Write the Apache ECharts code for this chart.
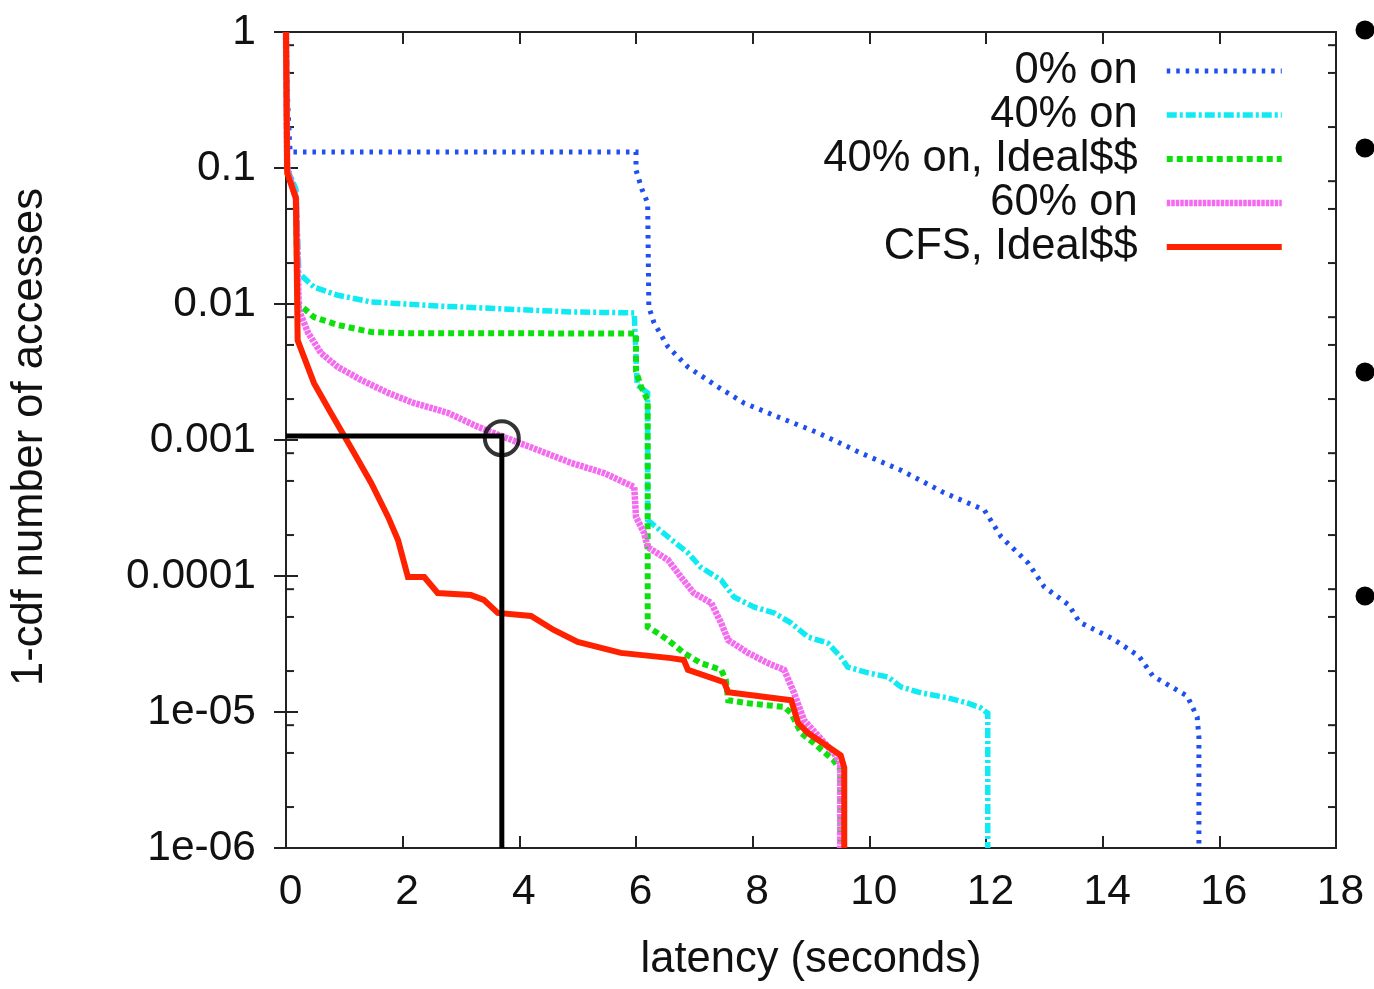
<!DOCTYPE html>
<html>
<head>
<meta charset="utf-8">
<title>1-cdf of access latency</title>
<script src="https://cdn.jsdelivr.net/npm/echarts@6/dist/echarts.min.js"></script>
<style>
  html, body { margin: 0; padding: 0; background: #fff; }
  #chart { width: 1374px; height: 989px; }
</style>
</head>
<body>
<div id="chart"></div>
<script>
// Tick labels
const xTickLabels = ['0', '2', '4', '6', '8', '10', '12', '14', '16', '18'];
const yTickLabels = ['1e-06', '1e-05', '0.0001', '0.001', '0.01', '0.1', '1'];
// Minor log ticks drawn inside each decade (multipliers)
const minorMultipliers = [2, 5, 8];

// Series: [latency (s), 1-cdf]
const seriesNames = ['0% on', '40% on', '40% on, Ideal$$', '60% on', 'CFS, Ideal$$'];

const pct0On = [
  [0, 1], [0.03, 0.3], [0.07, 0.131], [6.0, 0.131], [6.0, 0.0967], [6.1, 0.07], [6.2, 0.0553],
  [6.22, 0.0095], [6.31, 0.00725], [6.55, 0.00483], [6.89, 0.00344], [7.41, 0.00245],
  [7.85, 0.00187], [8.43, 0.00148], [9.12, 0.00113], [9.86, 0.0008], [10.54, 0.0006],
  [11.28, 0.00041], [11.97, 0.000306], [12.26, 0.000194], [12.72, 0.000125], [13.0, 0.000083],
  [13.42, 0.0000612], [13.6, 0.0000459], [14.18, 0.0000344], [14.62, 0.0000258],
  [14.86, 0.0000184], [15.45, 0.0000131], [15.62, 0.0000092], [15.65, 0.0000065], [15.65, 0.000001]
];

const pct40On = [
  [0, 1], [0.02, 0.1], [0.17, 0.07], [0.22, 0.0169], [0.48, 0.0133], [0.89, 0.0116],
  [1.46, 0.01035], [2.6, 0.00967], [3.74, 0.0092], [4.89, 0.00874], [5.97, 0.0086],
  [6.02, 0.00254], [6.2, 0.00222], [6.2, 0.000258], [6.55, 0.000194], [6.89, 0.000148],
  [7.11, 0.000116], [7.46, 0.0000935], [7.68, 0.0000701], [8.02, 0.0000592], [8.37, 0.0000535],
  [8.66, 0.0000451], [8.95, 0.0000356], [9.29, 0.0000321], [9.51, 0.0000254], [9.63, 0.0000214],
  [9.98, 0.0000194], [10.32, 0.0000181], [10.54, 0.0000153], [10.89, 0.0000138],
  [11.35, 0.0000127], [11.69, 0.0000116], [11.91, 0.0000107], [12.03, 0.0000098], [12.03, 0.000001]
];

const pct40OnIdeal = [
  [0, 1], [0.02, 0.1], [0.17, 0.06], [0.2, 0.0102], [0.48, 0.008], [0.89, 0.00701],
  [1.46, 0.00622], [2.02, 0.0061], [6.0, 0.00607], [6.0, 0.0032], [6.09, 0.00245], [6.2, 0.00197],
  [6.2, 0.0000422], [6.37, 0.0000381], [6.55, 0.0000338], [6.82, 0.0000272], [7.11, 0.0000229],
  [7.46, 0.0000204], [7.54, 0.0000172], [7.58, 0.0000122], [7.92, 0.0000116], [8.54, 0.0000109],
  [8.66, 0.0000098], [8.83, 0.000007], [9.05, 0.0000059], [9.39, 0.0000044], [9.5, 0.0000038],
  [9.5, 0.000001]
];

const pct60On = [
  [0, 1], [0.02, 0.1], [0.17, 0.06], [0.22, 0.00903], [0.38, 0.00612], [0.6, 0.00436],
  [0.89, 0.00344], [1.29, 0.00276], [1.75, 0.00222], [2.19, 0.00187], [2.78, 0.00158],
  [3.29, 0.00125], [3.74, 0.00105], [4.32, 0.000844], [4.89, 0.000678], [5.45, 0.000572],
  [5.97, 0.000451], [6.0, 0.000272], [6.14, 0.000207], [6.2, 0.000163], [6.55, 0.000131],
  [6.77, 0.0000984], [6.99, 0.000075], [7.29, 0.0000633], [7.46, 0.0000451], [7.58, 0.0000338],
  [7.92, 0.0000272], [8.26, 0.0000229], [8.54, 0.0000204], [8.71, 0.0000138], [8.88, 0.0000087],
  [9.39, 0.000005], [9.5, 0.0000042], [9.5, 0.000001]
];

const cfsIdeal = [
  [0, 1], [0.02, 0.092], [0.17, 0.06], [0.2, 0.0054], [0.48, 0.00262], [0.77, 0.00158],
  [1.17, 0.0008], [1.46, 0.000483], [1.75, 0.000272], [1.92, 0.000184], [2.09, 0.0000984],
  [2.37, 0.0000984], [2.6, 0.000075], [3.17, 0.0000724], [3.39, 0.0000667], [3.63, 0.0000535],
  [4.2, 0.0000508], [4.59, 0.0000401], [5.0, 0.0000327], [5.74, 0.0000272], [6.6, 0.0000249],
  [6.82, 0.0000241], [6.89, 0.0000204], [7.51, 0.0000166], [7.58, 0.000014], [8.66, 0.0000122],
  [8.78, 0.0000083], [8.95, 0.000007], [9.51, 0.0000048], [9.57, 0.0000039], [9.57, 0.000001]
];

// Highlighted operating point: 60% on at about 0.001
const markerPath = [[0, 0.00107], [3.7, 0.00107], [3.7, 0.000001]];
const markerPoint = [[3.7, 0.00103]];

const FONT = 'Liberation Sans, Arial, Helvetica, sans-serif';
const TEXT_SIZE = 43.5;
const TICK_SIZE = 42.5;
const chart = echarts.init(document.getElementById('chart'), null, { renderer: 'canvas' });

// Minor tick values for every decade between 1e-6 and 1
const minorTickValues = [];
for (let e = -6; e < 0; e++) {
  minorMultipliers.forEach(m => minorTickValues.push([m * Math.pow(10, e)]));
}

function yLabel(v) {
  const e = Math.round(Math.log10(v));
  return yTickLabels[e + 6] || '';
}

function lineSeries(name, data, color, width, dash, z) {
  return {
    name, type: 'line', data, showSymbol: false, symbol: 'none',
    lineStyle: { color, width, type: dash, cap: 'butt', join: 'miter' },
    itemStyle: { color }, z, animation: false, silent: true
  };
}

const frameLine = { show: true, lineStyle: { color: '#222', width: 2 } };
const frameTick = { show: true, inside: true, length: 12, lineStyle: { color: '#222', width: 2 } };

const option = {
  animation: false,
  backgroundColor: '#ffffff',
  grid: { left: 285, right: 38, top: 32, bottom: 141, show: true, borderColor: '#222', borderWidth: 2, backgroundColor: 'transparent' },
  legend: {
    data: seriesNames,
    orient: 'vertical',
    align: 'right',
    right: 84,
    top: 44,
    itemWidth: 115,
    itemHeight: 12,
    itemGap: 0,
    itemStyle: { opacity: 0 },
    lineStyle: { width: 'inherit', type: 'inherit', cap: 'butt' },
    textStyle: { fontFamily: FONT, fontSize: TEXT_SIZE, color: '#111', lineHeight: 42, padding: [0, 24, 0, 0] }
  },
  xAxis: [{
    type: 'value', min: 0, max: 18, interval: 2,
    axisLine: frameLine, axisTick: frameTick,
    axisLabel: { fontFamily: FONT, fontSize: TICK_SIZE, color: '#111', margin: 23, padding: [0, 0, 0, 9],
      formatter: v => xTickLabels[Math.round(v / 2)] },
    splitLine: { show: false },
    name: 'latency (seconds)', nameLocation: 'middle', nameGap: 90,
    nameTextStyle: { fontFamily: FONT, fontSize: TEXT_SIZE, color: '#111' }
  }, {
    type: 'value', min: 0, max: 18, interval: 2, position: 'top',
    axisLine: frameLine, axisTick: frameTick,
    axisLabel: { show: false }, splitLine: { show: false }
  }],
  yAxis: [{
    type: 'log', logBase: 10, min: 0.000001, max: 1, interval: 1,
    axisLine: frameLine, axisTick: frameTick,
    axisLabel: { fontFamily: FONT, fontSize: TICK_SIZE, color: '#111', margin: 30, lineHeight: 48, padding: [10, 0, 0, 0], formatter: yLabel },
    splitLine: { show: false }, minorTick: { show: false },
    name: '1-cdf number of accesses', nameLocation: 'middle', nameGap: 234, nameRotate: 90,
    nameTextStyle: { fontFamily: FONT, fontSize: TEXT_SIZE, color: '#111', padding: [0, 0, 0, 6] }
  }, {
    type: 'log', logBase: 10, min: 0.000001, max: 1, interval: 1, position: 'right',
    axisLine: frameLine, axisTick: frameTick,
    axisLabel: { show: false }, splitLine: { show: false }
  }],
  series: [
    lineSeries('0% on', pct0On, '#1f4ff0', 5, [3.5, 6], 2),
    lineSeries('40% on', pct40On, '#10eaf2', 5.5, [10, 3, 3, 3], 3),
    lineSeries('40% on, Ideal$$', pct40OnIdeal, '#0ee00e', 6, [6, 4], 4),
    lineSeries('60% on', pct60On, '#f46af0', 6.5, [3.5, 1], 5),
    lineSeries('CFS, Ideal$$', cfsIdeal, '#ff2200', 6, 'solid', 6),
    {
      type: 'line', data: markerPath, showSymbol: false, symbol: 'none',
      lineStyle: { color: '#000', width: 5, cap: 'butt', join: 'miter' }, z: 8, silent: true
    },
    {
      type: 'scatter', data: markerPoint, symbol: 'circle', symbolSize: 34,
      itemStyle: { color: 'rgba(0,0,0,0)', borderColor: '#000', borderWidth: 4 }, z: 9, silent: true
    },
    {
      // minor log ticks on the left and right frame
      type: 'custom', data: minorTickValues, silent: true, z: 1,
      renderItem: function (params, api) {
        const cs = params.coordSys;
        const y = api.coord([0, api.value(0)])[1];
        const len = 8;
        const style = { stroke: '#222', lineWidth: 2 };
        return {
          type: 'group',
          children: [
            { type: 'line', shape: { x1: cs.x, y1: y, x2: cs.x + len, y2: y }, style },
            { type: 'line', shape: { x1: cs.x + cs.width - len, y1: y, x2: cs.x + cs.width, y2: y }, style }
          ]
        };
      }
    }
  ],
  graphic: [
    { type: 'circle', shape: { cx: 1365, cy: 30, r: 9.5 }, style: { fill: '#000' } },
    { type: 'circle', shape: { cx: 1365, cy: 148, r: 9.5 }, style: { fill: '#000' } },
    { type: 'circle', shape: { cx: 1365, cy: 372, r: 9.5 }, style: { fill: '#000' } },
    { type: 'circle', shape: { cx: 1365, cy: 596, r: 9.5 }, style: { fill: '#000' } }
  ]
};

chart.setOption(option);
</script>
</body>
</html>
